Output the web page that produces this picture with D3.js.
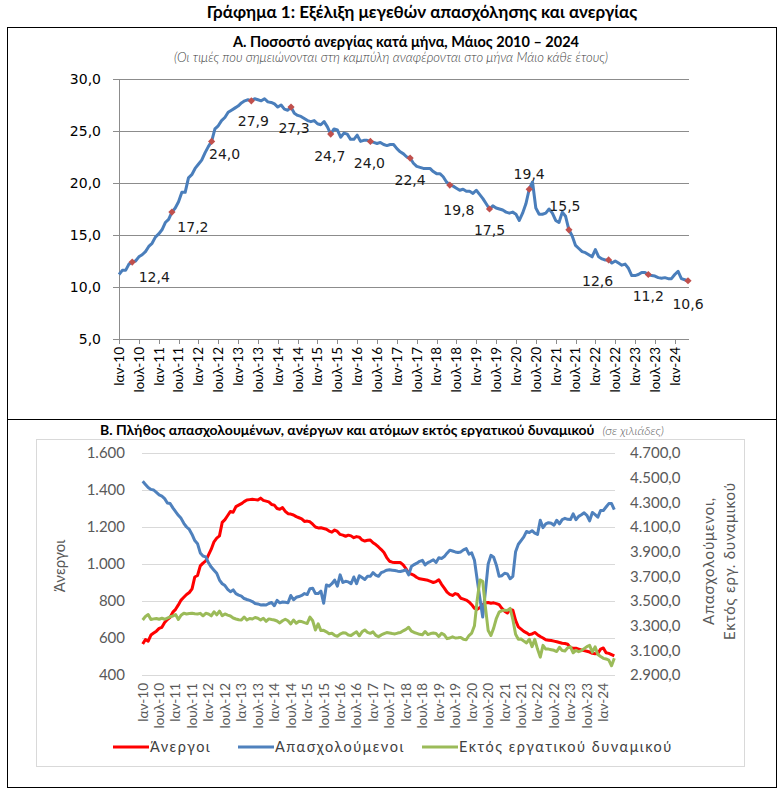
<!DOCTYPE html>
<html>
<head>
<meta charset="utf-8">
<script src="https://cdn.jsdelivr.net/npm/d3@7/dist/d3.min.js"></script>
<style>
  body { margin: 0; background: #fff; }
  svg { display: block; font-family: Lato, "Open Sans", sans-serif; }
</style>
</head>
<body>
<svg id="chart" width="784" height="794"></svg>
<script>
// ---- data (monthly, Jan 2010 .. May 2024) ----
const tickLabels = [
  'Ιαν-10', 'Ιουλ-10', 'Ιαν-11', 'Ιουλ-11', 'Ιαν-12', 'Ιουλ-12', 'Ιαν-13', 'Ιουλ-13',
  'Ιαν-14', 'Ιουλ-14', 'Ιαν-15', 'Ιουλ-15', 'Ιαν-16', 'Ιουλ-16', 'Ιαν-17', 'Ιουλ-17',
  'Ιαν-18', 'Ιουλ-18', 'Ιαν-19', 'Ιουλ-19', 'Ιαν-20', 'Ιουλ-20', 'Ιαν-21', 'Ιουλ-21',
  'Ιαν-22', 'Ιουλ-22', 'Ιαν-23', 'Ιουλ-23', 'Ιαν-24'
]

// unemployment rate %
const rate = [
  11.2, 11.6, 11.6, 12.2, 12.4, 12.5, 12.9, 13.1, 13.4, 13.9, 14.2, 14.8,
  15.1, 15.5, 16.2, 16.5, 17.2, 17.6, 18.2, 19.1, 19.1, 20.5, 20.8, 21.4,
  21.8, 22.2, 22.9, 23.5, 24.0, 25.2, 25.5, 26.0, 26.3, 26.8, 27.0, 27.2,
  27.4, 27.7, 27.9, 28.0, 27.9, 28.1, 28.0, 27.9, 28.1, 27.8, 27.75, 27.6,
  27.3, 27.5, 27.1, 27.0, 27.3, 26.7, 26.5, 26.4, 26.2, 26.0, 25.9, 26.0,
  25.7, 25.6, 25.9, 25.4, 24.7, 25.2, 25.1, 24.4, 24.8, 24.7, 24.2, 24.2,
  24.6, 24.0, 24.1, 24.1, 24.0, 23.9, 23.8, 23.9, 23.7, 23.6, 23.7, 23.7,
  23.3, 23.0, 22.8, 22.5, 22.4, 21.9, 21.6, 21.5, 21.4, 21.4, 21.4, 21.1,
  20.9, 20.9, 20.6, 20.1, 19.8, 19.7, 19.5, 19.3, 19.4, 19.2, 19.2, 19.0,
  19.3, 18.9, 18.5, 18.0, 17.5, 17.8, 17.6, 17.5, 17.4, 17.2, 17.1, 17.2,
  17.0, 16.4, 17.1, 18.0, 19.4, 20.1, 17.6, 17.0, 17.0, 17.1, 17.5, 17.1,
  16.4, 16.2, 17.2, 16.8, 15.5, 14.9, 14.0, 13.7, 13.4, 13.3, 13.1, 12.9,
  13.6, 12.9, 12.7, 12.6, 12.6, 12.3, 12.5, 12.3, 12.1, 12.2, 11.8, 11.1,
  11.1, 11.2, 11.4, 11.4, 11.2, 11.1, 11.05, 10.9, 10.85, 10.9, 10.8, 10.8,
  11.2, 11.5, 10.8, 10.7, 10.6
]
const mayIndex = [4, 16, 28, 40, 52, 64, 76, 88, 100, 112, 124, 136, 148, 160, 172]
const rateTicks = [5, 10, 15, 20, 25, 30]

// thousands
const unemployed = [
  568, 592, 583, 616, 627, 637, 652, 658, 684, 700, 712, 740,
  755, 779, 805, 820, 835, 846, 866, 930, 938, 990, 1005, 1017,
  1049, 1080, 1120, 1140, 1152, 1225, 1240, 1262, 1284, 1280, 1310, 1318,
  1326, 1337, 1346, 1348, 1350, 1348, 1346, 1356, 1344, 1340, 1336, 1322,
  1318, 1300, 1296, 1305, 1285, 1272, 1270, 1265, 1256, 1250, 1244, 1230,
  1232, 1228, 1215, 1200, 1195, 1196, 1192, 1188, 1178, 1172, 1184, 1176,
  1160, 1156, 1150, 1156, 1152, 1142, 1148, 1145, 1130, 1124, 1128, 1130,
  1115, 1105, 1092, 1078, 1062, 1035, 1015, 1010, 1008, 1008, 1008, 995,
  975, 950, 945, 938, 927, 920, 918, 915, 912, 906, 900, 905,
  915, 890, 870, 848, 836, 830, 840, 835, 815, 810, 805, 795,
  780, 760, 755, 765, 780, 790, 792, 788, 790, 786, 780, 760,
  745, 735, 755, 750, 695, 660, 648, 636, 628, 618, 622, 630,
  618, 608, 600, 590, 588, 586, 583, 580, 576, 572, 570, 566,
  548, 545, 545, 540, 535, 532, 528, 524, 517, 515, 516, 540,
  546, 520, 517, 510, 503
]
const employed = [
  4470, 4445, 4420, 4405, 4400, 4380, 4360, 4350, 4330, 4295, 4290, 4255,
  4225, 4195, 4170, 4130, 4100, 4080, 4040, 3990, 3965, 3890, 3865, 3858,
  3810, 3775, 3750, 3725, 3670, 3640, 3625, 3595, 3575, 3590, 3560, 3548,
  3540, 3520, 3512, 3505, 3495, 3480, 3476, 3468, 3470, 3468, 3480, 3488,
  3462, 3505, 3485, 3492, 3490, 3485, 3545, 3510, 3530, 3536, 3545, 3560,
  3552, 3600, 3604, 3560, 3560, 3580, 3482, 3630, 3620, 3640, 3670, 3620,
  3712, 3650, 3660, 3655, 3640, 3695, 3640, 3705, 3690, 3675, 3700, 3700,
  3730, 3710, 3700, 3730, 3739, 3750, 3753, 3750, 3747, 3742, 3739, 3745,
  3753, 3712, 3780, 3795, 3807, 3822, 3830, 3793, 3812, 3822, 3834, 3812,
  3850, 3845, 3860, 3888, 3912, 3905, 3898, 3893, 3898, 3915, 3925, 3880,
  3890, 3830, 3671, 3520, 3370, 3580, 3800, 3870, 3855, 3790, 3700, 3705,
  3725, 3720, 3680, 3700, 3900, 3960, 3990, 4020, 4064, 4055, 4070, 4050,
  4040, 4155, 4095, 4125, 4135, 4130, 4115, 4155, 4125, 4160, 4170, 4162,
  4160, 4207, 4159, 4186, 4199, 4215, 4195, 4150, 4218, 4200, 4180, 4234,
  4234, 4262, 4290, 4290, 4240
]
const inactive = [
  3346, 3375, 3390, 3350, 3355, 3358, 3352, 3360, 3352, 3362, 3372, 3378,
  3390, 3350, 3385, 3401, 3395, 3398, 3401, 3396, 3394, 3400, 3380, 3400,
  3395, 3380, 3412, 3388, 3418, 3380, 3395, 3385, 3378, 3362, 3354, 3348,
  3346, 3370, 3346, 3358, 3354, 3366, 3360, 3346, 3360, 3335, 3355, 3350,
  3346, 3338, 3322, 3340, 3352, 3340, 3314, 3346, 3320, 3336, 3333, 3325,
  3318, 3370, 3340, 3265, 3315, 3260, 3262, 3250, 3235, 3238, 3222, 3214,
  3232, 3242, 3240, 3225, 3220, 3236, 3250, 3218, 3250, 3265, 3246, 3238,
  3250, 3222, 3211, 3225, 3235, 3244, 3240, 3236, 3233, 3240, 3244, 3258,
  3270, 3287, 3255, 3245, 3238, 3230, 3226, 3252, 3228, 3236, 3240, 3236,
  3212, 3238, 3225, 3195, 3200, 3210, 3200, 3202, 3205, 3190, 3186, 3220,
  3240, 3300, 3509, 3671, 3660, 3450, 3260, 3220, 3280, 3360, 3410, 3422,
  3426, 3424, 3440, 3350, 3230, 3190, 3192, 3175, 3160, 3190, 3130, 3189,
  3110, 3045, 3140, 3110, 3110, 3105, 3100, 3090, 3125, 3098, 3095, 3120,
  3128, 3080, 3100, 3089, 3098, 3114, 3130, 3140, 3085, 3128, 3066, 3050,
  3035, 3030, 3020, 2975, 3035
]
const leftTicks = [400, 600, 800, 1000, 1200, 1400, 1600]
const rightTicks = [2900, 3100, 3300, 3500, 3700, 3900, 4100, 4300, 4500, 4700]

const seriesB = [
  { name: 'Άνεργοι', values: unemployed, axis: 'left', color: '#ff0000' },
  { name: 'Απασχολούμενοι', values: employed, axis: 'right', color: '#4f81bd' },
  { name: 'Εκτός εργατικού δυναμικού', values: inactive, axis: 'right', color: '#9bbb59' }
]

// label placement around May markers (dx, dy from marker)
const labelShift = [
  [22, 15], [21, 15], [13, 13], [2, 20], [3, 21], [-1, 22], [-1, 22], [0, 22],
  [9, 25], [0, 21], [0, -15], [-4, -24], [-11, 21], [0, 21], [0, 23]
]

// ---- formats ----
const greek = d3.formatLocale({ decimal: ',', thousands: '.', grouping: [3], currency: ['', ' €'] })
const fmtRate = greek.format('.1f')
const fmtLeft = greek.format(',.0f')
const fmtRight = greek.format(',.1f')

const svg = d3.select('#chart')

// ---- page title and frames ----
svg.append('text')
    .attr('x', 422)
    .attr('y', 18)
    .attr('text-anchor', 'middle')
    .attr('font-size', 17)
    .attr('font-weight', 'bold')
    .text('Γράφημα 1: Εξέλιξη μεγεθών απασχόλησης και ανεργίας')

svg.append('rect')
    .attr('x', 7.5).attr('y', 27.5)
    .attr('width', 769).attr('height', 760)
    .attr('fill', 'none')
    .attr('stroke', '#000')

svg.append('line')
    .attr('x1', 7.5).attr('x2', 776.5)
    .attr('y1', 419.5).attr('y2', 419.5)
    .attr('stroke', '#000')

// ---- A: unemployment rate ----
const gA = svg.append('g')

gA.append('text')
    .attr('x', 406).attr('y', 47)
    .attr('text-anchor', 'middle')
    .attr('font-size', 14.5)
    .attr('font-weight', 'bold')
    .text('Α. Ποσοστό ανεργίας κατά μήνα, Μάιος 2010 – 2024')

gA.append('text')
    .attr('x', 391).attr('y', 62)
    .attr('text-anchor', 'middle')
    .attr('font-size', 13)
    .attr('font-style', 'italic')
    .attr('font-weight', 300)
    .attr('fill', '#404040')
    .text('(Οι τιμές που σημειώνονται στη καμπύλη αναφέρονται στο μήνα Μάιο κάθε έτους)')

const xA = d3.scaleLinear().domain([0, rate.length - 1]).range([119, 688])
const yA = d3.scaleLinear().domain([5, 30]).range([339, 79])

gA.selectAll('line.grid')
  .data(rateTicks)
  .join('line')
    .attr('class', 'grid')
    .attr('x1', 113).attr('x2', 689)
    .attr('y1', d => Math.round(yA(d)) + 0.5)
    .attr('y2', d => Math.round(yA(d)) + 0.5)
    .attr('stroke', '#8c8c8c')

gA.append('line')
    .attr('x1', 119.5).attr('x2', 119.5)
    .attr('y1', yA(30)).attr('y2', yA(5) + 5)
    .attr('stroke', '#8c8c8c')

gA.selectAll('text.ytick')
  .data(rateTicks)
  .join('text')
    .attr('class', 'ytick')
    .attr('x', 101)
    .attr('y', d => yA(d))
    .attr('dy', '0.36em')
    .attr('text-anchor', 'end')
    .attr('font-family', '"DejaVu Sans", Verdana, sans-serif')
    .attr('font-size', 14)
    .text(fmtRate)

const tickIdx = tickLabels.map((t, i) => i * 6)

gA.selectAll('line.xtick')
  .data(tickIdx)
  .join('line')
    .attr('class', 'xtick')
    .attr('x1', d => Math.round(xA(d)) + 0.5)
    .attr('x2', d => Math.round(xA(d)) + 0.5)
    .attr('y1', yA(5)).attr('y2', yA(5) + 5)
    .attr('stroke', '#8c8c8c')

gA.selectAll('text.xlab')
  .data(tickIdx)
  .join('text')
    .attr('class', 'xlab')
    .attr('transform', d => `translate(${xA(d)},${yA(5) + 8}) rotate(-90)`)
    .attr('dy', '0.36em')
    .attr('text-anchor', 'end')
    .attr('font-size', 13.5)
    .text((d, i) => tickLabels[i])

const lineA = d3.line()
    .x((d, i) => xA(i))
    .y(d => yA(d))

gA.append('path')
    .datum(rate)
    .attr('d', lineA)
    .attr('fill', 'none')
    .attr('stroke', '#4a7ebb')
    .attr('stroke-width', 3)
    .attr('stroke-linejoin', 'round')

gA.selectAll('path.marker')
  .data(mayIndex)
  .join('path')
    .attr('class', 'marker')
    .attr('d', d3.symbol(d3.symbolSquare, 26))
    .attr('transform', d => `translate(${xA(d)},${yA(rate[d])}) rotate(45)`)
    .attr('fill', '#c0504d')

gA.selectAll('text.dlab')
  .data(mayIndex)
  .join('text')
    .attr('class', 'dlab')
    .attr('x', (d, i) => xA(d) + labelShift[i][0])
    .attr('y', (d, i) => yA(rate[d]) + labelShift[i][1])
    .attr('dy', '0.36em')
    .attr('text-anchor', 'middle')
    .attr('font-family', '"DejaVu Sans", Verdana, sans-serif')
    .attr('font-size', 14)
    .attr('fill', '#1a1a1a')
    .text(d => fmtRate(rate[d]))

// ---- B: employed, unemployed, inactive ----
const gB = svg.append('g')

gB.append('rect')
    .attr('x', 36.5).attr('y', 439.5)
    .attr('width', 708).attr('height', 327)
    .attr('fill', 'none')
    .attr('stroke', '#d9d9d9')

const titleB = gB.append('text')
    .attr('x', 100).attr('y', 435)
    .attr('font-size', 14)

titleB.append('tspan')
    .attr('font-weight', 'bold')
    .text('Β. Πλήθος απασχολουμένων, ανέργων και ατόμων εκτός εργατικού δυναμικού')

titleB.append('tspan')
    .attr('dx', 8)
    .attr('font-size', 12.5)
    .attr('font-style', 'italic')
    .attr('font-weight', 300)
    .attr('fill', '#595959')
    .text('(σε χιλιάδες)')

const xB = d3.scaleLinear().domain([0, unemployed.length - 1]).range([142.7, 614.3])
const yL = d3.scaleLinear().domain([400, 1600]).range([675, 453])
const yR = d3.scaleLinear().domain([2900, 4700]).range([675, 453])

gB.selectAll('line.grid')
  .data(leftTicks)
  .join('line')
    .attr('class', 'grid')
    .attr('x1', 142).attr('x2', 615)
    .attr('y1', d => Math.round(yL(d)) + 0.5)
    .attr('y2', d => Math.round(yL(d)) + 0.5)
    .attr('stroke', '#d9d9d9')

gB.selectAll('text.ltick')
  .data(leftTicks)
  .join('text')
    .attr('class', 'ltick')
    .attr('x', 125)
    .attr('y', d => yL(d))
    .attr('dy', '0.36em')
    .attr('text-anchor', 'end')
    .attr('font-size', 15)
    .attr('fill', '#595959')
    .text(fmtLeft)

gB.selectAll('text.rtick')
  .data(rightTicks)
  .join('text')
    .attr('class', 'rtick')
    .attr('x', 630)
    .attr('y', d => yR(d))
    .attr('dy', '0.36em')
    .attr('font-size', 15)
    .attr('fill', '#595959')
    .text(fmtRight)

gB.append('text')
    .attr('transform', 'translate(65,566) rotate(-90)')
    .attr('text-anchor', 'middle')
    .attr('font-size', 15)
    .attr('fill', '#595959')
    .text('Άνεργοι')

gB.selectAll('text.rtitle')
  .data(['Απασχολούμενοι,', 'Εκτός εργ. δυναμικού'])
  .join('text')
    .attr('class', 'rtitle')
    .attr('transform', (d, i) => `translate(${714 + i * 21},561) rotate(-90)`)
    .attr('text-anchor', 'middle')
    .attr('font-size', 15)
    .attr('letter-spacing', 0.8)
    .attr('fill', '#595959')
    .text(d => d)

gB.selectAll('text.xlab')
  .data(tickIdx)
  .join('text')
    .attr('class', 'xlab')
    .attr('transform', d => `translate(${xB(d)},${yL(400) + 8}) rotate(-90)`)
    .attr('dy', '0.36em')
    .attr('text-anchor', 'end')
    .attr('font-size', 13.5)
    .attr('fill', '#595959')
    .text((d, i) => tickLabels[i])

seriesB.forEach(s => {
  const y = s.axis === 'left' ? yL : yR
  gB.append('path')
      .datum(s.values)
      .attr('d', d3.line().x((d, i) => xB(i)).y(d => y(d)))
      .attr('fill', 'none')
      .attr('stroke', s.color)
      .attr('stroke-width', 3)
      .attr('stroke-linejoin', 'round')
})

// legend
const legendX = [113, 238, 422]
const legend = gB.selectAll('g.legend')
  .data(seriesB)
  .join('g')
    .attr('class', 'legend')
    .attr('transform', (d, i) => `translate(${legendX[i]},747)`)

legend.append('line')
    .attr('x1', 0).attr('x2', 36)
    .attr('stroke', d => d.color)
    .attr('stroke-width', 3)

legend.append('text')
    .attr('x', 37)
    .attr('dy', '0.36em')
    .attr('font-size', 14.5)
    .attr('letter-spacing', 1.5)
    .attr('fill', '#404040')
    .text(d => d.name)
</script>
</body>
</html>
